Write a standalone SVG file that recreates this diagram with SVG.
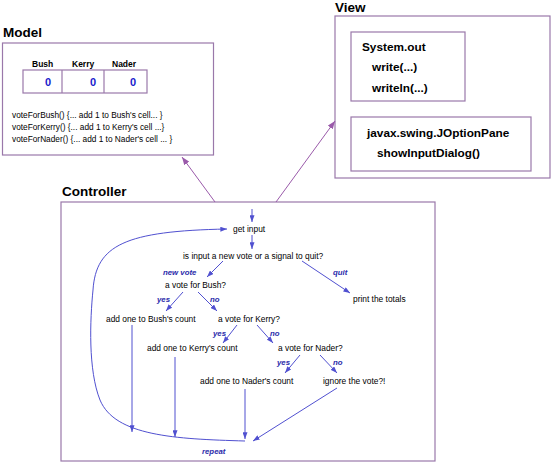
<svg xmlns="http://www.w3.org/2000/svg" width="552" height="462" viewBox="0 0 552 462">
  <style>
    .box { fill: none; stroke: #9a78aa; stroke-width: 1.2; }
    .title { font-family: "Liberation Sans", Arial, sans-serif; font-weight: bold; font-size: 13.5px; fill: #000; }
    .code { font-family: "Liberation Sans", Arial, sans-serif; font-weight: bold; font-size: 11.8px; fill: #000; }
    .hdr { font-family: "Liberation Sans", Arial, sans-serif; font-weight: bold; font-size: 8.5px; fill: #000; }
    .val { font-family: "Liberation Sans", Arial, sans-serif; font-weight: bold; font-size: 11px; fill: #1a1acc; text-anchor: middle; }
    .meth { font-family: "Liberation Sans", Arial, sans-serif; font-size: 8.3px; fill: #000; }
    .step { font-family: "Liberation Sans", Arial, sans-serif; font-size: 8.4px; fill: #000; }
    .lbl { font-family: "Liberation Sans", Arial, sans-serif; font-style: italic; font-weight: bold; font-size: 7.8px; fill: #2a2aaa; }
    .flow { fill: none; stroke: #5050d0; stroke-width: 1; }
    .link { fill: none; stroke: #9a5aaa; stroke-width: 1; }
  </style>
  <defs>
    <marker id="head" viewBox="0 0 8 6" refX="8" refY="3" markerWidth="7" markerHeight="5" markerUnits="userSpaceOnUse" orient="auto">
      <path d="M0,0 L8,3 L0,6 z" fill="#5050d0"/>
    </marker>
    <marker id="headP" viewBox="0 0 8 6" refX="8" refY="3" markerWidth="8" markerHeight="6" markerUnits="userSpaceOnUse" orient="auto">
      <path d="M0,0 L8,3 L0,6 z" fill="#9a5aaa"/>
    </marker>
  </defs>

  <!-- Model -->
  <g id="model">
    <text class="title" x="3" y="37">Model</text>
    <rect class="box" x="2.5" y="43" width="211" height="112"/>
    <text class="hdr" x="32" y="67">Bush</text>
    <text class="hdr" x="72" y="67">Kerry</text>
    <text class="hdr" x="112" y="67">Nader</text>
    <rect class="box" x="23" y="70" width="124" height="23"/>
    <line class="box" x1="62" y1="70" x2="62" y2="93"/>
    <line class="box" x1="104" y1="70" x2="104" y2="93"/>
    <text class="val" x="48" y="86">0</text>
    <text class="val" x="93" y="86">0</text>
    <text class="val" x="133" y="86">0</text>
    <text class="meth" x="12" y="118">voteForBush() {... add 1 to Bush's cell... }</text>
    <text class="meth" x="12" y="130">voteForKerry() {... add 1 to Kerry's cell ...}</text>
    <text class="meth" x="12" y="142">voteForNader() {... add 1 to Nader's cell ... }</text>
  </g>

  <!-- View -->
  <g id="view">
    <text class="title" x="335" y="12">View</text>
    <rect class="box" x="335" y="16" width="215" height="162"/>
    <rect class="box" x="351" y="32" width="114" height="69"/>
    <text class="code" x="362" y="51">System.out</text>
    <text class="code" x="372" y="71">write(...)</text>
    <text class="code" x="372" y="92">writeln(...)</text>
    <rect class="box" x="351" y="117" width="180" height="54"/>
    <text class="code" x="367" y="137">javax.swing.JOptionPane</text>
    <text class="code" x="377" y="157">showInputDialog()</text>
  </g>

  <!-- Controller -->
  <g id="controller">
    <text class="title" x="62" y="196">Controller</text>
    <rect class="box" x="61" y="202" width="374" height="259"/>
  </g>

  <!-- flowchart steps -->
  <g id="steps">
    <text class="step" x="233" y="232">get input</text>
    <text class="step" x="183" y="259">is input a new vote or a signal to quit?</text>
    <text class="step" x="165" y="288">a vote for Bush?</text>
    <text class="step" x="353" y="302">print the totals</text>
    <text class="step" x="106" y="322">add one to Bush's count</text>
    <text class="step" x="218" y="322">a vote for Kerry?</text>
    <text class="step" x="147" y="351">add one to Kerry's count</text>
    <text class="step" x="278" y="351">a vote for Nader?</text>
    <text class="step" x="200" y="384">add one to Nader's count</text>
    <text class="step" x="323" y="384">ignore the vote?!</text>
  </g>

  <!-- branch labels -->
  <g id="labels">
    <text class="lbl" x="163" y="275">new vote</text>
    <text class="lbl" x="333" y="275">quit</text>
    <text class="lbl" x="157" y="302">yes</text>
    <text class="lbl" x="210" y="302">no</text>
    <text class="lbl" x="213" y="336">yes</text>
    <text class="lbl" x="270" y="336">no</text>
    <text class="lbl" x="277" y="365">yes</text>
    <text class="lbl" x="333" y="365">no</text>
    <text class="lbl" x="202" y="454">repeat</text>
  </g>

  <!-- connectors -->
  <g id="connectors">
    <line class="link" x1="215" y1="202" x2="182" y2="157" marker-end="url(#headP)"/>
    <line class="link" x1="276" y1="202" x2="335" y2="121" marker-end="url(#headP)"/>

    <line class="flow" x1="252" y1="209" x2="252" y2="222" marker-end="url(#head)"/>
    <line class="flow" x1="252" y1="235" x2="252" y2="249" marker-end="url(#head)"/>
    <line class="flow" x1="223" y1="261" x2="207" y2="277" marker-end="url(#head)"/>
    <line class="flow" x1="302" y1="261" x2="350" y2="293" marker-end="url(#head)"/>
    <line class="flow" x1="183" y1="292" x2="166" y2="311" marker-end="url(#head)"/>
    <line class="flow" x1="198" y1="292" x2="217" y2="311" marker-end="url(#head)"/>
    <line class="flow" x1="237" y1="325" x2="223" y2="343" marker-end="url(#head)"/>
    <line class="flow" x1="257" y1="325" x2="273" y2="343" marker-end="url(#head)"/>
    <line class="flow" x1="300" y1="355" x2="285" y2="373" marker-end="url(#head)"/>
    <line class="flow" x1="320" y1="355" x2="337" y2="373" marker-end="url(#head)"/>
    <line class="flow" x1="132" y1="325" x2="132" y2="432" marker-end="url(#head)"/>
    <line class="flow" x1="175" y1="357" x2="175" y2="437" marker-end="url(#head)"/>
    <line class="flow" x1="245" y1="389" x2="245" y2="439" marker-end="url(#head)"/>
    <line class="flow" x1="337" y1="388" x2="253" y2="441" marker-end="url(#head)"/>
    <path class="flow" d="M245,441 C175,439 115,436 100,400 C88,370 90,320 93,290 C96,245 125,231 227,229" marker-end="url(#head)"/>
  </g>
</svg>
